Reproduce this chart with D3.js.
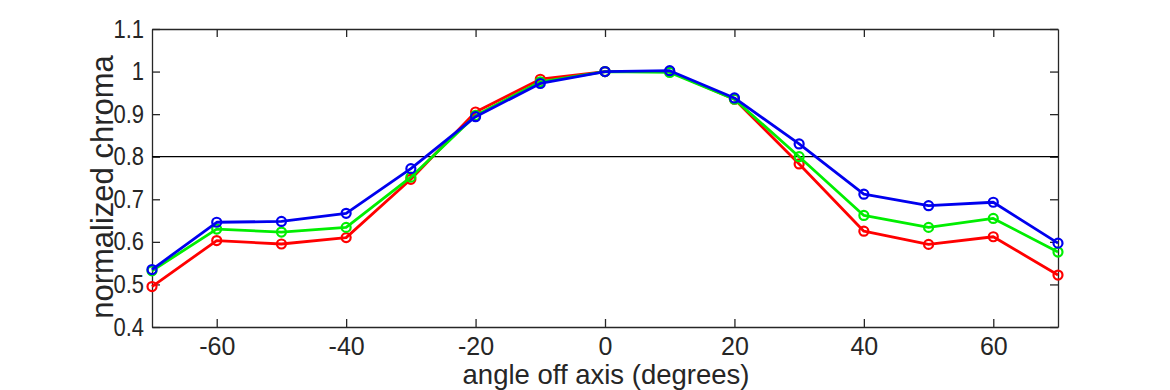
<!DOCTYPE html>
<html><head><meta charset="utf-8">
<script src="https://cdn.jsdelivr.net/npm/d3@7"></script>
<style>body{margin:0;background:#fff}svg{display:block}text{font-family:"Liberation Sans",Arial,sans-serif;fill:#262626}</style>
</head><body><svg id="c" width="1170" height="390"></svg>
<script>
const angles = [-70,-60,-50,-40,-30,-20,-10,0,10,20,30,40,50,60,70];
const redValues   = [0.495,0.603,0.595,0.610,0.747,0.905,0.982,1.000,1.000,0.935,0.783,0.625,0.594,0.612,0.522];
const greenValues = [0.532,0.630,0.623,0.634,0.752,0.897,0.976,1.000,0.998,0.935,0.800,0.662,0.634,0.655,0.576];
const blueValues  = [0.535,0.646,0.648,0.667,0.772,0.894,0.972,1.000,1.002,0.938,0.830,0.712,0.685,0.693,0.597];
const xTicks = [-60,-40,-20,0,20,40,60];
const xTickLabels = ["-60","-40","-20","0","20","40","60"];
const yTicks = [0.4,0.5,0.6,0.7,0.8,0.9,1.0,1.1];
const yTickLabels = ["0.4","0.5","0.6","0.7","0.8","0.9","1","1.1"];
const thresholdValue = 0.8;
const seriesList = [
  {name:"red", values:redValues, color:"#ff0000"},
  {name:"green", values:greenValues, color:"#00ee00"},
  {name:"blue", values:blueValues, color:"#0000ee"}
];

const svg = d3.select("#c");
const L=152, R=1058, T=29, B=327;
const x = d3.scaleLinear().domain([-70,70]).range([L,R]);
const y = d3.scaleLinear().domain([0.4,1.1]).range([B,T]);
const axisColor="#262626";
const FONT='"Liberation Sans",Arial,sans-serif';

const xAxisB = d3.axisBottom(x).tickValues(xTicks).tickSizeInner(-8).tickSizeOuter(0).tickPadding(10).tickFormat((d,i)=>xTickLabels[i]);
const xAxisT = d3.axisTop(x).tickValues(xTicks).tickSizeInner(-8).tickSizeOuter(0).tickFormat("");
const yAxisL = d3.axisLeft(y).tickValues(yTicks).tickSizeInner(-8).tickSizeOuter(0).tickPadding(8).tickFormat((d,i)=>yTickLabels[i]);
const yAxisR = d3.axisRight(y).tickValues(yTicks).tickSizeInner(-8).tickSizeOuter(0).tickFormat("");

function style(sel){
  sel.attr("font-size",25).attr("font-family",FONT);
  sel.selectAll("path.domain").attr("stroke",axisColor).attr("stroke-width",1.3);
  sel.selectAll(".tick line").attr("stroke",axisColor).attr("stroke-width",1.3);
  sel.selectAll(".tick text").attr("font-size",25).attr("fill",axisColor);
}
const gB = svg.append("g").attr("transform",`translate(0,${B})`).call(xAxisB).call(style);
gB.selectAll(".tick text").attr("dy","0.72em");
svg.append("g").attr("transform",`translate(0,${T})`).call(xAxisT).call(style);
const gL = svg.append("g").attr("transform",`translate(${L},0)`).call(yAxisL).call(style);
gL.selectAll(".tick text").attr("x",null).attr("transform","translate(-8,0) scale(0.88,1)");
svg.append("g").attr("transform",`translate(${R},0)`).call(yAxisR).call(style);

// threshold line
svg.append("line").attr("x1",L).attr("x2",R).attr("y1",y(thresholdValue)).attr("y2",y(thresholdValue)).attr("stroke","#000").attr("stroke-width",1.3);

const line = d3.line().x((d,i)=>x(angles[i])).y(d=>y(d));
const plot = svg.append("g");
seriesList.forEach(s=>{
  plot.append("path").datum(s.values).attr("d",line).attr("fill","none").attr("stroke",s.color).attr("stroke-width",2.8).attr("stroke-linejoin","round");
  plot.selectAll(null).data(s.values).enter().append("circle")
    .attr("cx",(d,i)=>x(angles[i])).attr("cy",d=>y(d)).attr("r",4.5)
    .attr("fill","none").attr("stroke",s.color).attr("stroke-width",2.2);
});

svg.append("text").attr("x",(L+R)/2+1).attr("y",384).attr("text-anchor","middle").attr("font-size",27.5).text("angle off axis (degrees)");
svg.append("text").attr("transform",`translate(113,187) rotate(-90)`).attr("text-anchor","middle").attr("font-size",31).text("normalized chroma");
</script></body></html>
